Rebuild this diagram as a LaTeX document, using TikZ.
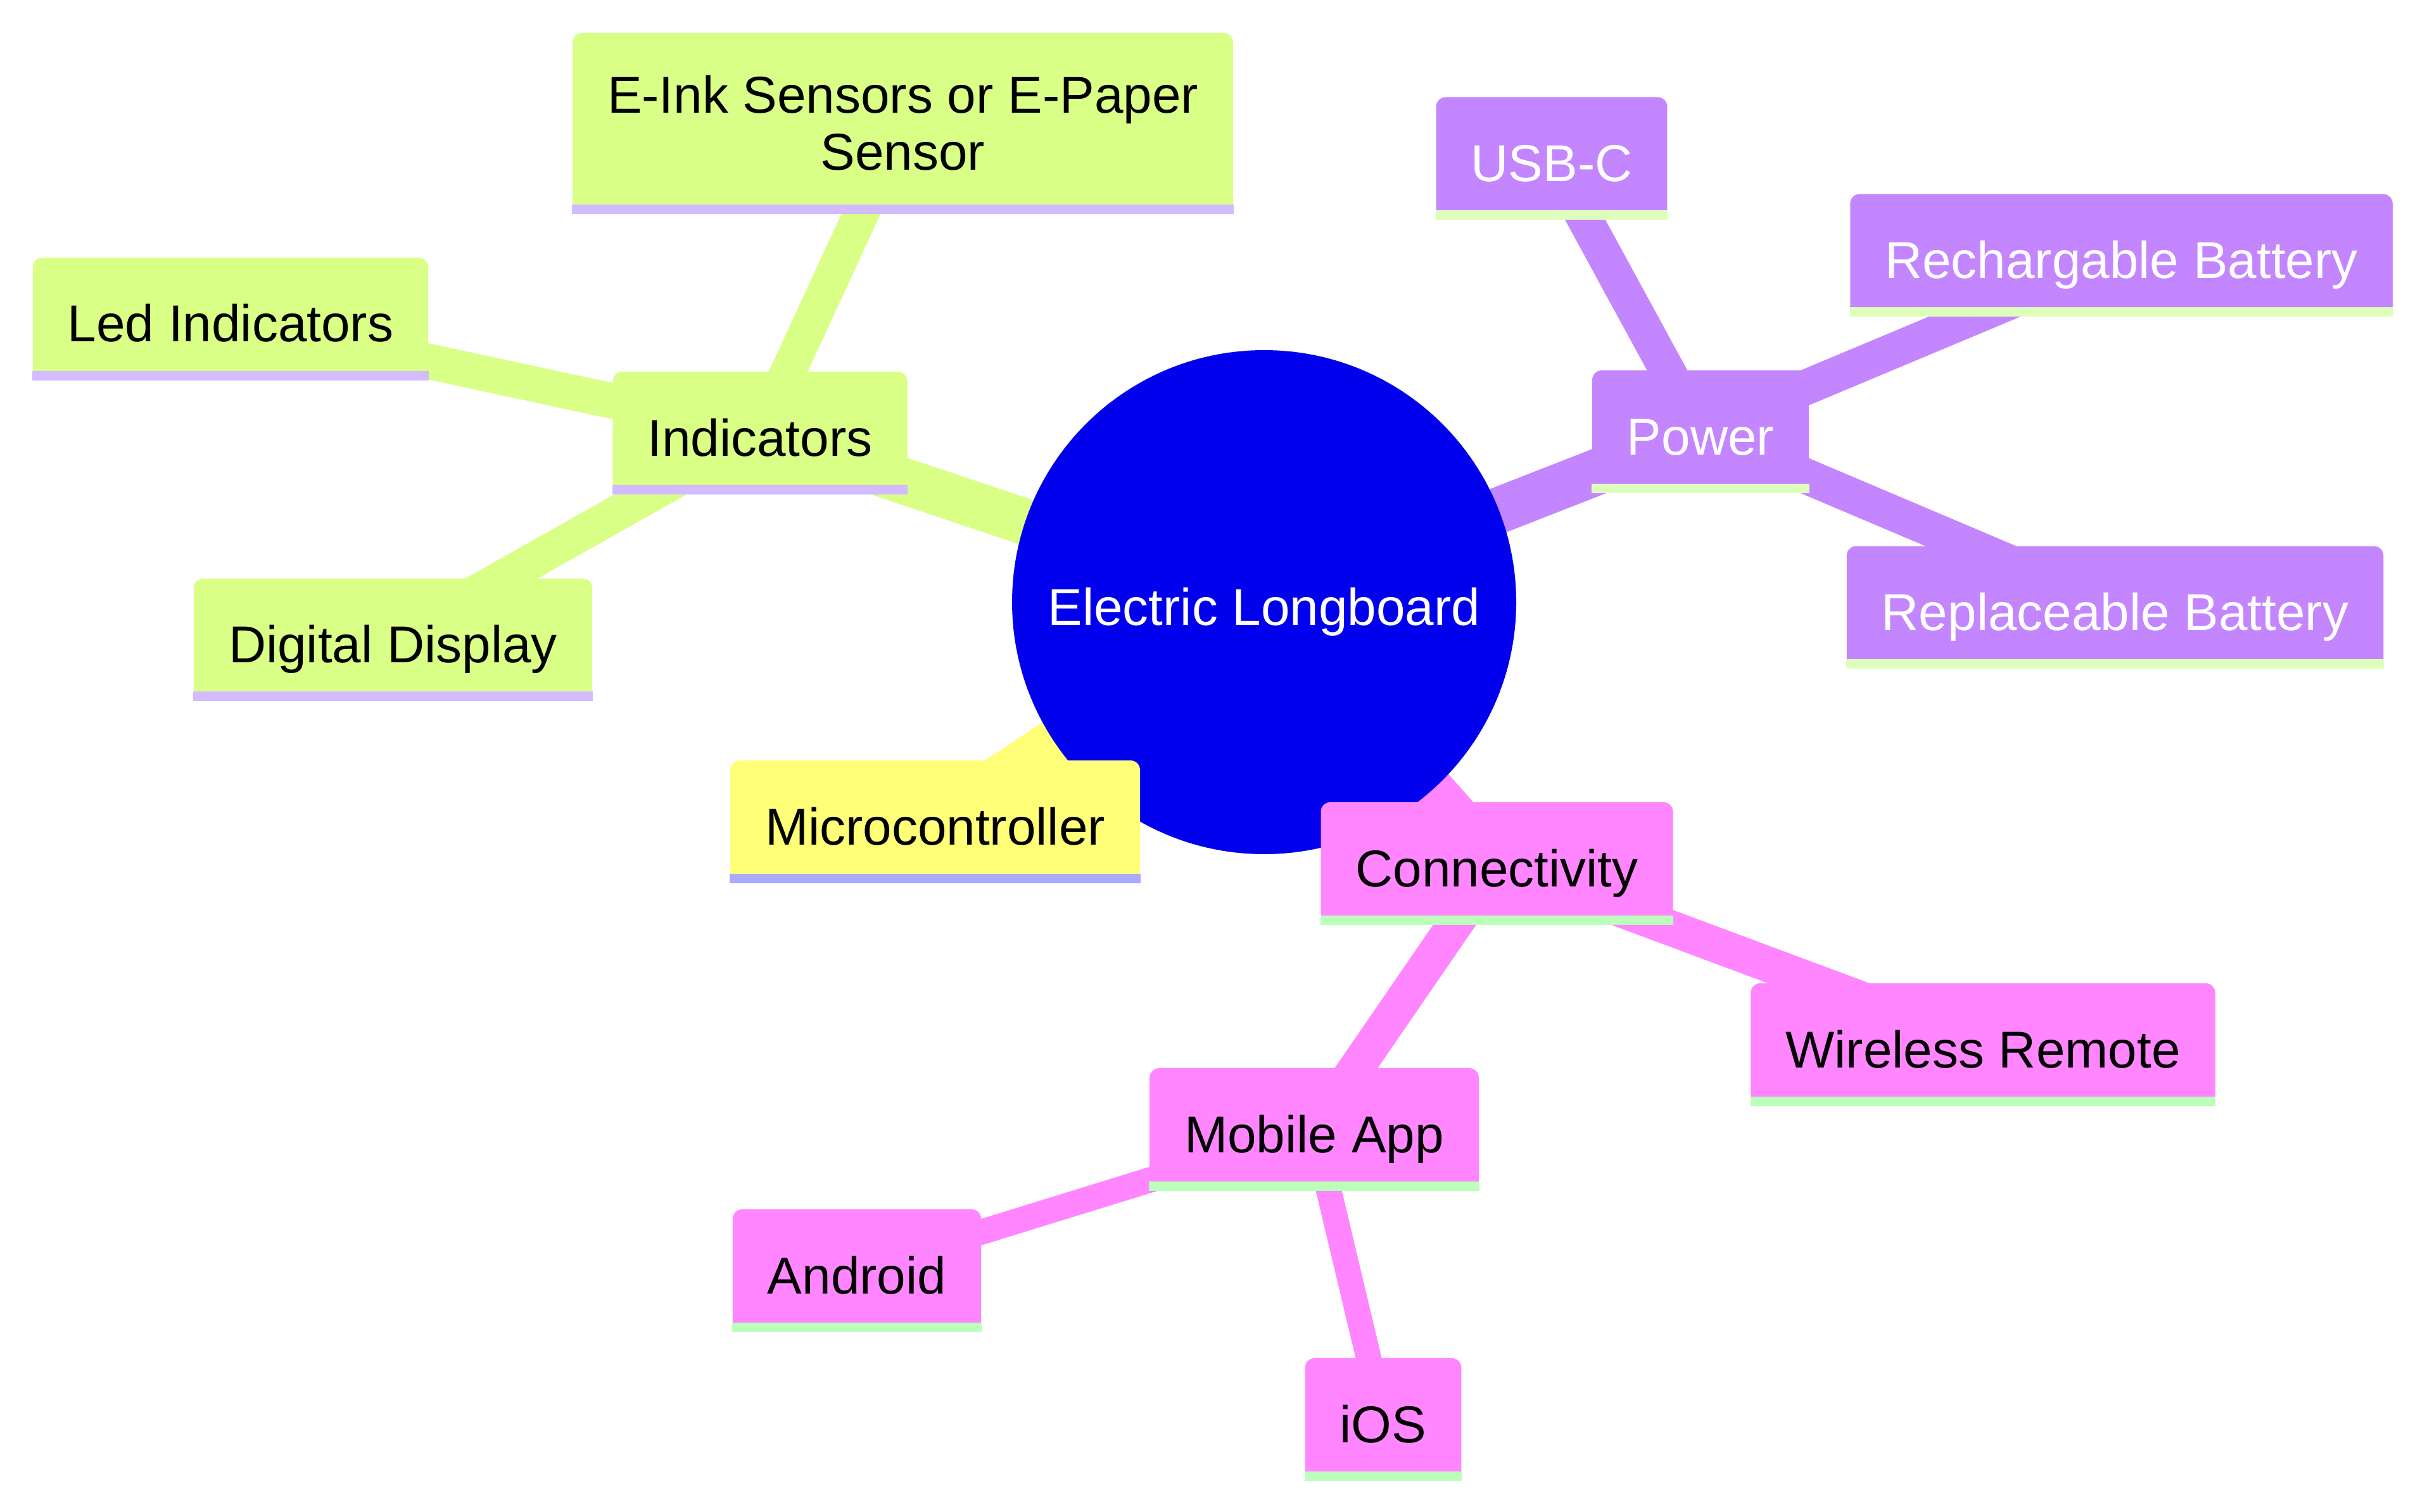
\documentclass[tikz,border=0pt]{standalone}
\usepackage{fontspec}
\setmainfont{Liberation Sans}
\usetikzlibrary{backgrounds}
\definecolor{rootblue}{HTML}{0000EC}
\definecolor{cmcu}{HTML}{FFFF78}
\definecolor{cind}{HTML}{D9FF86}
\definecolor{cpow}{HTML}{C386FF}
\definecolor{ccon}{HTML}{FF86FF}
\definecolor{lmcu}{HTML}{AAAAFF}
\definecolor{lind}{HTML}{D2BBFF}
\definecolor{lpow}{HTML}{DDFFBB}
\definecolor{lcon}{HTML}{BBFFBB}

\begin{document}
\begin{tikzpicture}[
    every node/.style={font=\fontsize{23.3pt}{25.6pt}\selectfont},
    base/.style={rectangle,rounded corners=1.5mm,minimum height=1.93cm,inner xsep=5.5mm,inner ysep=0pt,align=center},
    box/.style={base,text height=7.3mm,text depth=0pt},
    trunk/.style={line width=7.3mm},
    branch/.style={line width=5.6mm},
    twig/.style={line width=4mm}]
    % cadre
    \useasboundingbox (0,0) rectangle (38.4,-23.88);
    % racine
    \node[circle,fill=rootblue,text=white,minimum size=7.96cm,inner sep=0pt,text height=7.3mm,text depth=0pt] (root) at (19.96,-9.51) {Electric Longboard};
    % boîtes
    \node[box,fill=cmcu] (mcu) at (14.765,-12.975) {Microcontroller};
    \node[box,fill=cind] (ind) at (12.00,-6.835) {Indicators};
    \node[box,fill=cind] (led) at (3.64,-5.035) {Led Indicators};
    \node[base,fill=cind,minimum height=2.85cm] (eink) at (14.255,-1.945) {E-Ink Sensors or E-Paper\\Sensor};
    \node[box,fill=cind] (disp) at (6.205,-10.10) {Digital Display};
    \node[box,fill=cpow,text=white] (pow) at (26.85,-6.815) {Power};
    \node[box,fill=cpow,text=white] (usb) at (24.50,-2.50) {USB-C};
    \node[box,fill=cpow,text=white] (rech) at (33.495,-4.03) {Rechargable Battery};
    \node[box,fill=cpow,text=white] (repl) at (33.395,-9.59) {Replaceable Battery};
    \node[box,fill=ccon] (conn) at (23.635,-13.635) {Connectivity};
    \node[box,fill=ccon] (wrl) at (31.31,-16.495) {Wireless Remote};
    \node[box,fill=ccon] (app) at (20.75,-17.835) {Mobile App};
    \node[box,fill=ccon] (andr) at (13.53,-20.065) {Android};
    \node[box,fill=ccon] (ios) at (21.84,-22.415) {iOS};
    % liserés
    \foreach \n/\c in {mcu/lmcu,ind/lind,led/lind,eink/lind,disp/lind,pow/lpow,usb/lpow,rech/lpow,repl/lpow,conn/lcon,wrl/lcon,app/lcon,andr/lcon,ios/lcon}
        \fill[\c] (\n.south west) rectangle ([yshift=1.5mm]\n.south east);
    % arêtes
    \begin{pgfonlayer}{background}
        \draw[trunk,cmcu] (root.center) -- (mcu.center);
        \draw[trunk,cind] (root.center) -- (ind.center);
        \draw[trunk,cpow] (root.center) -- (pow.center);
        \draw[trunk,ccon] (root.center) -- (conn.center);
        \foreach \n in {led,eink,disp} \draw[branch,cind] (ind.center) -- (\n.center);
        \foreach \n in {usb,rech,repl} \draw[branch,cpow] (pow.center) -- (\n.center);
        \foreach \n in {wrl,app} \draw[branch,ccon] (conn.center) -- (\n.center);
        \foreach \n in {andr,ios} \draw[twig,ccon] (app.center) -- (\n.center);
    \end{pgfonlayer}
\end{tikzpicture}
\end{document}
